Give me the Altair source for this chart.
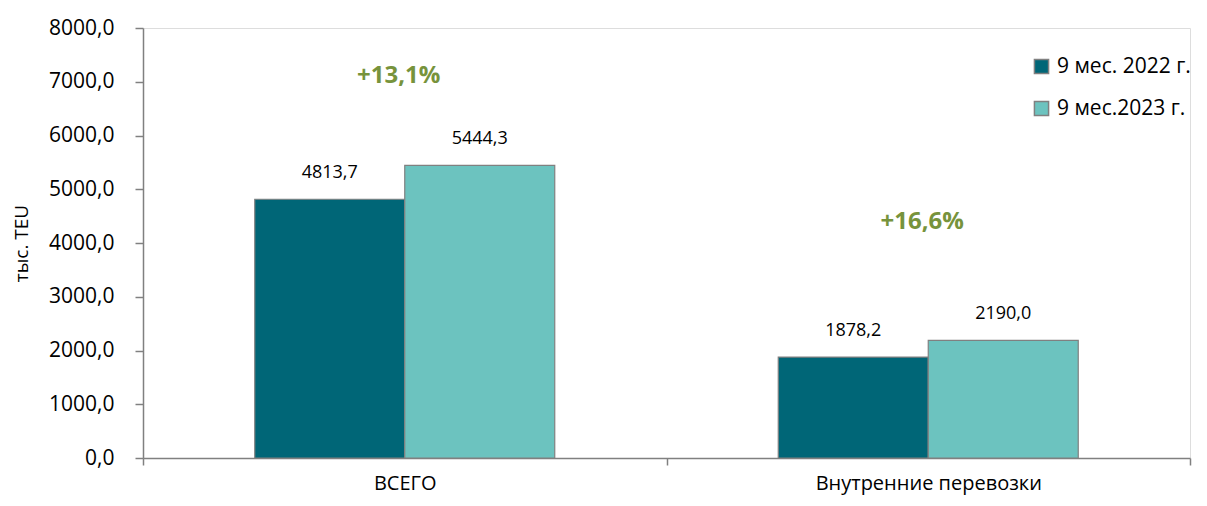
import altair as alt
import pandas as pd

categories = ["ВСЕГО", "Внутренние перевозки"]
series = ["9 мес. 2022 г.", "9 мес.2023 г."]
values_2022 = [4813.7, 1878.2]
values_2023 = [5444.3, 2190.0]
growth_labels = ["+13,1%", "+16,6%"]
growth_y = [7100, 4400]

rows = []
for c, v1, v2 in zip(categories, values_2022, values_2023):
    rows.append({"cat": c, "series": series[0], "value": v1, "label": f"{v1:.1f}".replace(".", ",")})
    rows.append({"cat": c, "series": series[1], "value": v2, "label": f"{v2:.1f}".replace(".", ",")})
df = pd.DataFrame(rows)
ann = pd.DataFrame({"cat": categories, "txt": growth_labels, "y": growth_y})

FONT = "Open Sans"
GREY = "#808080"

xscale = alt.Scale(domain=categories, paddingInner=0, paddingOuter=0)
yscale = alt.Scale(domain=[0, 8000])
xoff = alt.XOffset("series:N", scale=alt.Scale(domain=series, paddingInner=0, paddingOuter=0.745))

base = alt.Chart(df)

bars = base.mark_bar(stroke=GREY, strokeWidth=1.2).encode(
    x=alt.X("cat:N", scale=xscale, sort=categories, title=None,
            axis=alt.Axis(labelAngle=0, tickBand="extent", labelFontSize=20, labelFont=FONT,
                          labelColor="#000", domainColor=GREY, tickColor=GREY, tickSize=7,
                          labelPadding=8, domainWidth=1.5, tickWidth=1.5, labelLimit=0)),
    xOffset=xoff,
    y=alt.Y("value:Q", scale=yscale, title="тыс. TEU",
            axis=alt.Axis(values=list(range(0, 8001, 1000)),
                          labelExpr="replace(format(datum.value, '.1f'), '.', ',')",
                          labelFontSize=21, labelFont=FONT, labelColor="#000",
                          titleFontSize=19, titleFont=FONT, titleFontWeight="normal", titleColor="#000",
                          titlePadding=17, domainColor=GREY, tickColor=GREY, tickSize=8,
                          labelPadding=21, grid=False, domainWidth=1.5, tickWidth=1.5)),
    color=alt.Color("series:N", scale=alt.Scale(domain=series, range=["#006677", "#6CC3BF"]),
                    legend=alt.Legend(title=None, orient="none", legendX=888, legendY=28,
                                      symbolType="square", symbolSize=200, symbolStrokeColor=GREY,
                                      symbolStrokeWidth=1.5, symbolOpacity=1,
                                      labelFontSize=21, labelFont=FONT, labelColor="#000",
                                      rowPadding=20, labelOffset=5, labelLimit=0)),
)

labels = base.mark_text(baseline="bottom", dy=-17, fontSize=18, font=FONT, color="#000").encode(
    x=alt.X("cat:N", scale=xscale, sort=categories),
    xOffset=xoff,
    y=alt.Y("value:Q", scale=yscale),
    text="label:N",
)

growth = alt.Chart(ann).mark_text(fontSize=24, font=FONT, fontWeight="bold", color="#77933C", dx=-6).encode(
    x=alt.X("cat:N", scale=xscale, sort=categories),
    y=alt.Y("y:Q", scale=yscale),
    text="txt:N",
)

chart = alt.layer(bars, labels, growth).properties(
    width=1047, height=430,
    autosize=alt.AutoSizeParams(type="none"),
    padding={"left": 135, "top": 20, "right": 9, "bottom": 40},
).configure_view(stroke=None).configure(background="white")

chart.save("out.html", embed_options={"renderer": "svg", "actions": False})
